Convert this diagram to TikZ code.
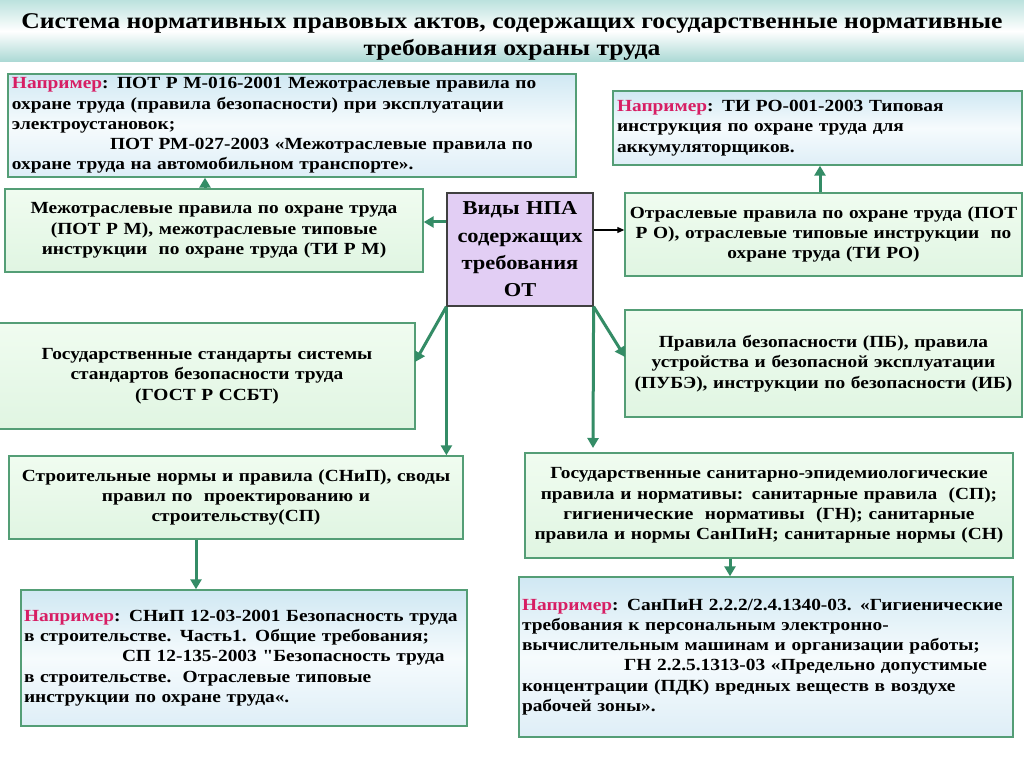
\documentclass[tikz,border=0pt]{standalone}
\usepackage{fontspec}
\setmainfont{Liberation Serif}[FakeStretch=1.14]
\newfontfamily\qfont{Liberation Serif}[FakeStretch=1.14]
\usetikzlibrary{arrows.meta,shadings}
\definecolor{gborder}{RGB}{84,158,118}
\definecolor{garrow}{RGB}{52,140,102}
\definecolor{gtop}{RGB}{240,252,240}
\definecolor{gbot}{RGB}{224,245,226}
\definecolor{btop}{RGB}{208,232,243}
\definecolor{bmid}{RGB}{246,251,253}
\definecolor{bbot}{RGB}{222,238,247}
\definecolor{purp}{RGB}{226,206,244}
\definecolor{nap}{RGB}{215,30,100}
\definecolor{ttop}{RGB}{188,226,222}
\definecolor{tbot}{RGB}{170,216,212}
\newcommand\Nap{\textcolor{nap}{Например}}
\newcommand\sq{{\qfont\bfseries"}}
\tikzset{
  every node/.style={font=\bfseries\fontsize{17}{20.3}\selectfont},
  gbox/.style={draw=gborder, line width=1.4pt, top color=gtop, bottom color=gbot, inner sep=0pt, align=center},
  bbox/.style={draw=gborder, line width=1.4pt, top color=btop, bottom color=bbot, middle color=bmid, inner sep=0pt, align=left},
  cbox/.style={draw=black!75, line width=1.2pt, fill=purp, inner sep=0pt, align=center,
     font=\bfseries\fontsize{19.7}{27.3}\selectfont},
  garr/.style={draw=garrow, line width=3pt, -{Triangle[length=10pt,width=11pt]}},
  karr/.style={draw=black, line width=1.2pt, -{Triangle[length=7pt,width=6pt]}}
}
\begin{document}
\begin{tikzpicture}[x=1pt,y=-1pt]
\useasboundingbox (0,0) rectangle (1024,767);
\fill[white] (0,0) rectangle (1024,767);
% title band
\shade[top color=ttop, bottom color=tbot, middle color=white] (0,0) rectangle (1024,62);
\node[font=\bfseries\fontsize{22.5}{27}\selectfont, align=center] (title) at (512,37)
  {Система нормативных правовых актов, содержащих государственные нормативные\\требования охраны труда};

% boxes
\node[bbox, minimum width=568pt, minimum height=103pt, text width=560pt] (B1) at (292,125.5)
  {\Nap: ПОТ Р М-016-2001 Межотраслевые правила по\\
   охране труда (правила безопасности) при эксплуатации\\
   электроустановок;\\
   \hspace*{98pt}ПОТ РМ-027-2003 «Межотраслевые правила по\\
   охране труда на автомобильном транспорте».};
\node[bbox, minimum width=409pt, minimum height=74pt, text width=401pt] (B2) at (817.5,128)
  {\Nap: ТИ РО-001-2003 Типовая\\
   инструкция по охране труда для\\
   аккумуляторщиков.};
\node[cbox, minimum width=146pt, minimum height=113pt, text width=144pt] (C) at (520,249.5)
  {Виды НПА\\содержащих\\требования\\ОТ};
\node[gbox, minimum width=418pt, minimum height=83pt, text width=414pt] (L1) at (214,230.5)
  {Межотраслевые правила по охране труда\\
   (ПОТ Р М), межотраслевые типовые\\
   инструкции\ \ по охране труда (ТИ Р М)};
\node[gbox, minimum width=397pt, minimum height=83pt, text width=395pt] (R1) at (823.5,234.5)
  {Отраслевые правила по охране труда (ПОТ\\
   Р О), отраслевые типовые инструкции\ \ по\\
   охране труда (ТИ РО)};
\node[gbox, minimum width=416pt, minimum height=106pt, text width=412pt] (L2) at (207,376)
  {Государственные стандарты системы\\
   стандартов безопасности труда\\
   (ГОСТ Р ССБТ)};
\node[gbox, minimum width=397pt, minimum height=107pt, text width=395pt] (R2) at (823.5,363.5)
  {Правила безопасности (ПБ), правила\\
   устройства и безопасной эксплуатации\\
   (ПУБЭ), инструкции по безопасности (ИБ)};
\node[gbox, minimum width=454pt, minimum height=83pt, text width=450pt] (L3) at (236,497.5)
  {Строительные нормы и правила (СНиП), своды\\
   правил по\ \ проектированию и\\
   строительству(СП)};
\node[gbox, minimum width=488pt, minimum height=105pt, text width=486pt] (R3) at (769,505.5)
  {Государственные санитарно-эпидемиологические\\
   правила и нормативы: санитарные правила\ \ (СП);\\
   гигиенические\ \ нормативы\ \ (ГН); санитарные\\
   правила и нормы СанПиН; санитарные нормы (СН)};
\node[bbox, minimum width=446pt, minimum height=136pt, text width=440pt] (L4) at (244,658)
  {\Nap: СНиП 12-03-2001 Безопасность труда\\
   в строительстве. Часть1. Общие требования;\\
   \hspace*{98pt}СП 12-135-2003 \sq Безопасность труда\\
   в строительстве.\ \ Отраслевые типовые\\
   инструкции по охране труда«.};
\node[bbox, minimum width=494pt, minimum height=160pt, text width=488pt] (R4) at (766,657)
  {\Nap: СанПиН 2.2.2/2.4.1340-03. «Гигиенические\\
   требования к персональным электронно-\\
   вычислительным машинам и организации работы;\\
   \hspace*{102pt}ГН 2.2.5.1313-03 «Предельно допустимые\\
   концентрации (ПДК) вредных веществ в воздухе\\
   рабочей зоны».};

% connector end points
\coordinate (l2in) at (415,362);
\coordinate (r2in) at (625,357);
\coordinate (r3in) at (593,448);

% connectors
\draw[garr] (C.west |- 0,222) -- (L1.east |- 0,222);
\draw[garr] (L1.north -| 205,0) -- (B1.south -| 205,0);
\draw[karr] (C.east |- 0,230) -- (R1.west |- 0,230);
\draw[garr] (R1.north -| 820,0) -- (B2.south -| 820,0);
\draw[garr] (C.south west) -- (l2in);
\draw[garr] (C.south west) -- (L3.north -| C.south west);
\draw[garr] (L3.south -| 196,0) -- (L4.north -| 196,0);
\draw[garr] (C.south east) -- (r2in);
\draw[garr] (C.south east) -- (r3in);
\draw[garr] (R3.south -| 730,0) -- (R4.north -| 730,0);
\end{tikzpicture}
\end{document}
